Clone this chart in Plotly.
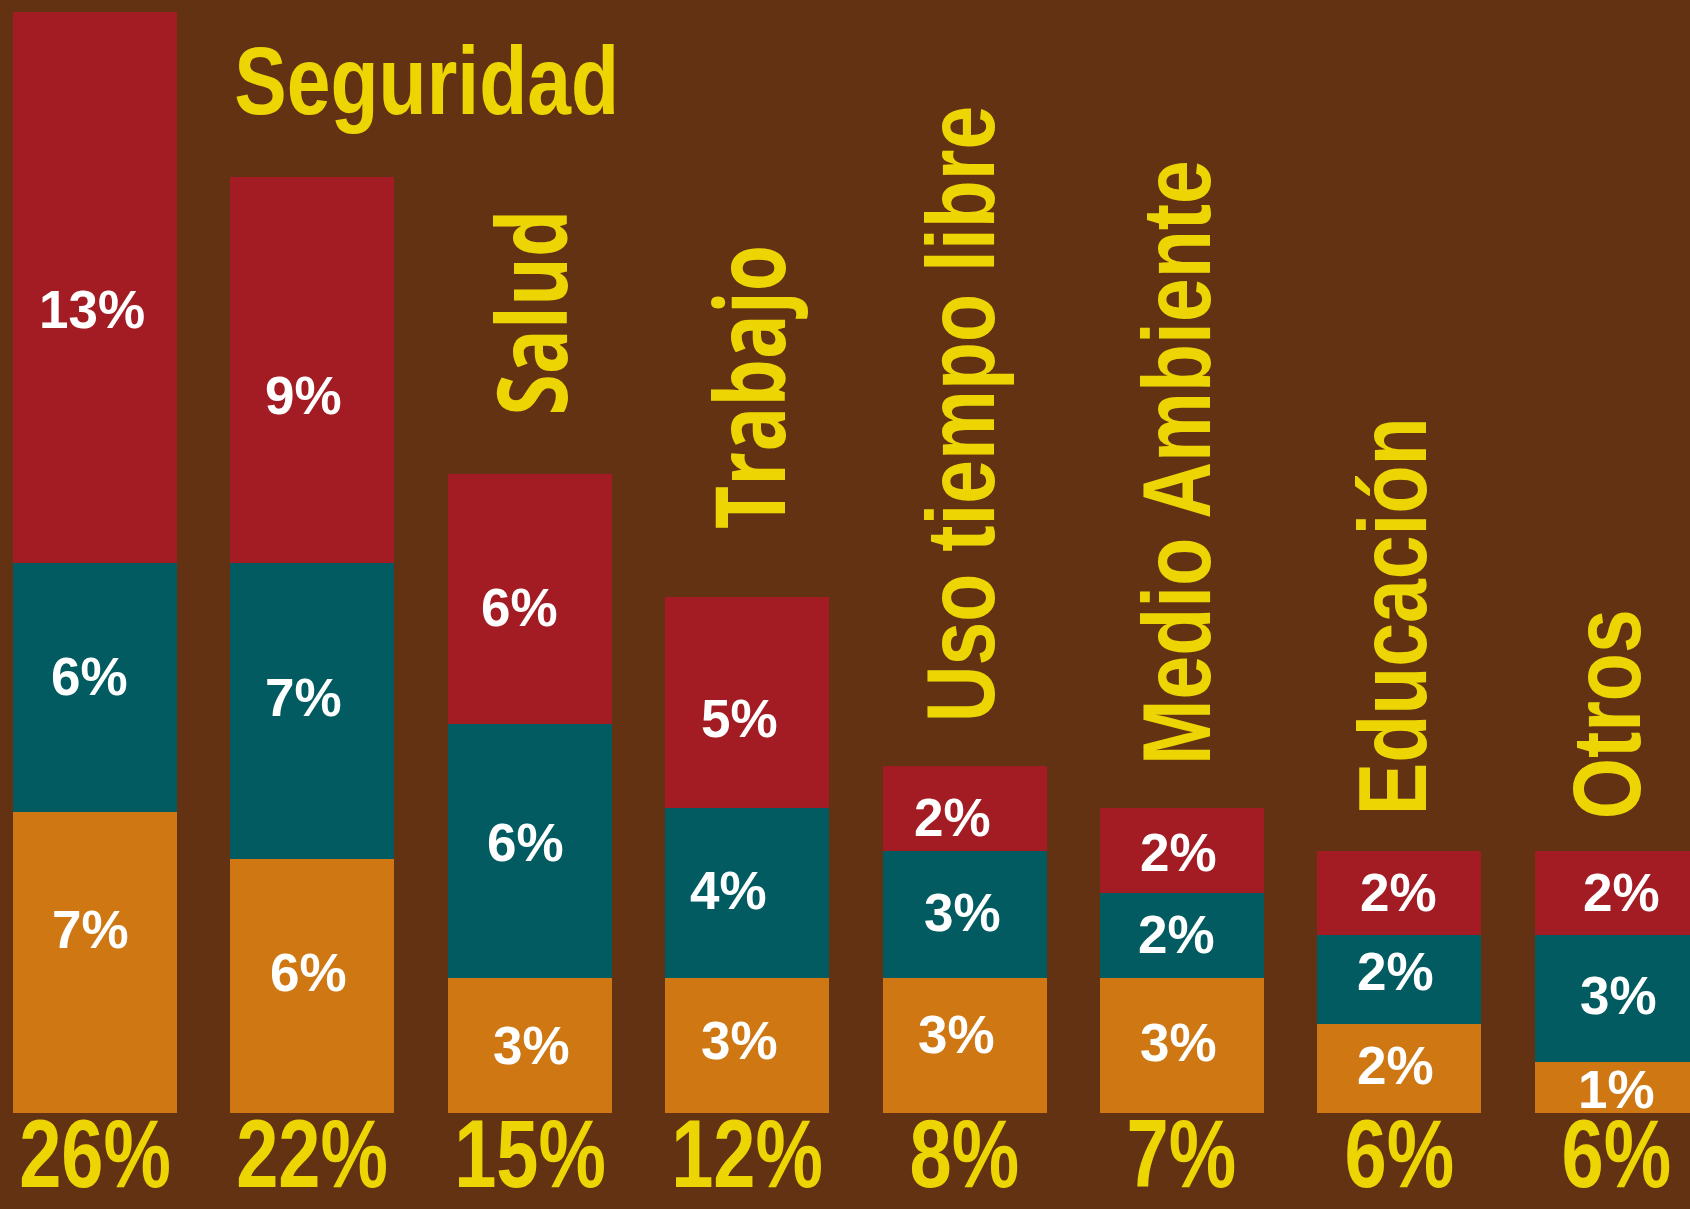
import json
import plotly.graph_objects as go

# ---- data ----
categories = ["Seguridad", "Seguridad (2)", "Salud", "Trabajo", "Uso tiempo libre",
              "Medio Ambiente", "Educación", "Otros"]
cat_labels = ["", "Seguridad", "Salud", "Trabajo", "Uso tiempo libre",
              "Medio Ambiente", "Educación", "Otros"]
orange_vals = [7.1, 6.0, 3.2, 3.2, 3.2, 3.2, 2.1, 1.2]
teal_vals = [5.9, 7.0, 6.0, 4.0, 3.0, 2.0, 2.1, 3.0]
red_vals = [13.0, 9.1, 5.9, 5.0, 2.0, 2.0, 2.0, 2.0]
totals = [o + t + r for o, t, r in zip(orange_vals, teal_vals, red_vals)]

# ---- style ----
BG = "#633212"
ORANGE = "#CE7713"
TEAL = "#015B60"
RED = "#A31C24"
YELLOW = "#ECD503"
SANS = "Liberation Sans, Arial, sans-serif"
OPEN = "Open Sans, Liberation Sans, sans-serif"

x = list(range(len(categories)))

fig = go.Figure()
for vals, col in [(orange_vals, ORANGE), (teal_vals, TEAL), (red_vals, RED)]:
    fig.add_trace(go.Bar(
        x=x, y=vals, width=0.754,
        marker=dict(color=col, line=dict(width=0)),
        hoverinfo="skip", showlegend=False,
    ))

annotations = []
squeeze = []  # per annotation: [horizontal scale, "c" center | "s" start]

# white segment labels (small per-label nudges, in pixels)
dx = {"o": [-5, -4, 2, -8, -8, -3, -4, 0],
      "t": [-6, -9, -4, -19, -2, -5, -4, 2],
      "r": [-3, -9, -10, -8, -12, -3, -1, 5]}
dy = {"o": [-33, -13, 0, -5, -11, -3, -3, 2],
      "t": [-11, -13, -8, -2, -2, -1, -8, -3],
      "r": [22, 25, 9, 16, 9, 2, 0, 0]}
for i in x:
    base = 0
    for key, vals in [("o", orange_vals), ("t", teal_vals), ("r", red_vals)]:
        v = vals[i]
        annotations.append(dict(
            x=i, y=base + v / 2, xref="x", yref="y", text=f"{round(v)}%",
            showarrow=False, xanchor="center", yanchor="middle",
            xshift=dx[key][i], yshift=-dy[key][i], borderpad=0, borderwidth=0,
            font=dict(family=SANS, size=53, color="white", weight="bold")))
        squeeze.append([1, "c"])
        base += v

# totals below bars
for i, t in enumerate(totals):
    annotations.append(dict(
        x=i, y=0, xref="x", yref="y", text=f"{round(t)}%", showarrow=False,
        xanchor="center", yanchor="top", yshift=13, borderpad=0, borderwidth=0,
        font=dict(family=SANS, size=96, color=YELLOW, weight="bold")))
    squeeze.append([0.79, "c"])

# horizontal title for the first category
annotations.append(dict(
    x=1.523, y=24.4, xref="x", yref="y", text="Seguridad", showarrow=False,
    xanchor="center", yanchor="middle",
    font=dict(family=SANS, size=96, color=YELLOW, weight="bold")))
squeeze.append([0.82, "c"])

# rotated category labels above bars
gaps = [0, 0, 56, 65, 41, 41, 33, 29]
xshifts = [0, 0, 0, 0, -4, -6, -7, -10]
for i in range(2, len(categories)):
    opn = i in (2, 3)
    annotations.append(dict(
        x=i, y=totals[i], xref="x", yref="y", text=cat_labels[i], showarrow=False,
        textangle=-90, xanchor="center", yanchor="bottom",
        yshift=gaps[i], xshift=xshifts[i],
        font=dict(family=OPEN if opn else SANS, size=96, color=YELLOW, weight="bold")))
    squeeze.append([0.78 if opn else 0.82, "s"])

fig.update_layout(
    barmode="stack",
    width=1690, height=1209, autosize=False,
    margin=dict(l=0, r=0, t=0, b=0, pad=0),
    paper_bgcolor=BG, plot_bgcolor=BG,
    xaxis=dict(range=[-0.437, 7.337], visible=False, fixedrange=True),
    yaxis=dict(range=[-2.268, 26.29], visible=False, fixedrange=True),
    annotations=annotations,
    bargap=0,
)

post = """
document.body.style.margin='0';document.body.style.overflow='hidden';
var SQ = %s;
var gd = document.getElementById('{plot_id}');
function narrow(){
  gd.querySelectorAll('g.annotation').forEach(function(g){
    var idx = +g.getAttribute('data-index');
    var sq = SQ[idx];
    if(!sq || sq[0] === 1) return;
    var t = g.querySelector('text.annotation-text');
    if(!t) return;
    var bb = t.getBBox();
    var cx = sq[1] === 's' ? bb.x : bb.x + bb.width / 2;
    t.setAttribute('transform', 'translate(' + cx + ',0) scale(' + sq[0] + ',1) translate(' + (-cx) + ',0)');
  });
}
narrow();
""" % json.dumps(squeeze)

fig.write_html("out.html", config={"displayModeBar": False}, post_script=post)
